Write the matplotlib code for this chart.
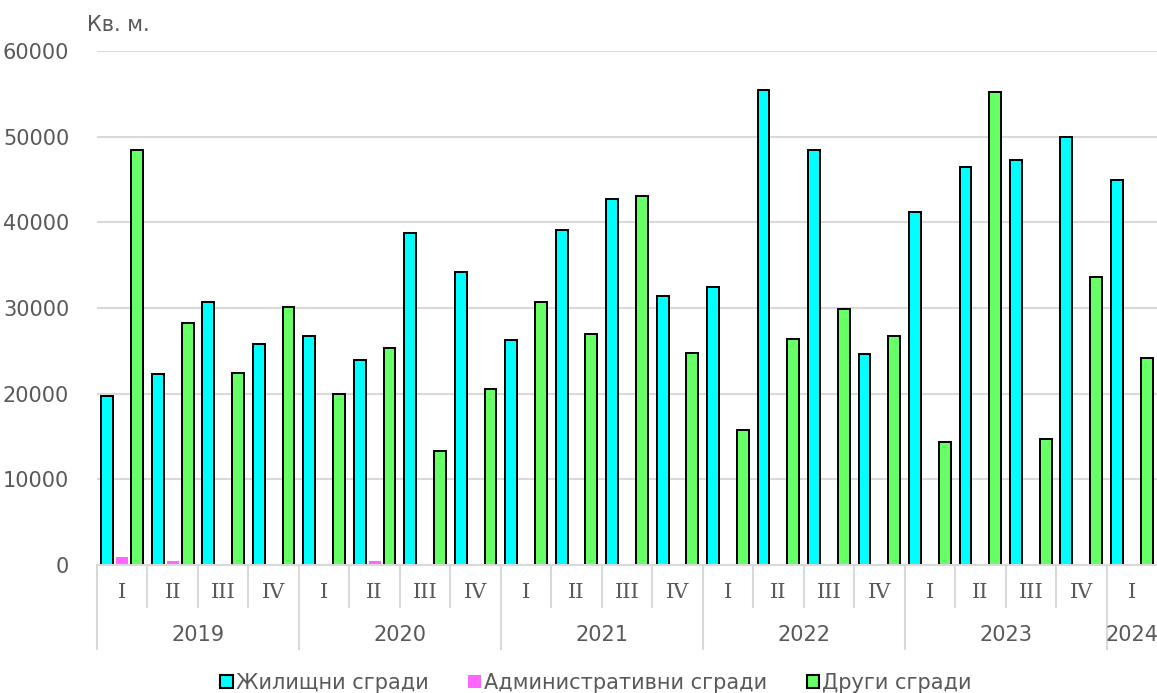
import matplotlib.pyplot as plt
import numpy as np
from matplotlib.patches import Patch

# quarters 2019 I .. 2024 I
years = ["2019", "2020", "2021", "2022", "2023", "2024"]
quarters_per_year = [4, 4, 4, 4, 4, 1]
quarter_names = ["I", "II", "III", "IV"]

residential = [19700, 22250, 30730, 25750,
               26680, 23960, 38800, 34200,
               26230, 39120, 42710, 31350,
               32450, 55400, 48430, 24600,
               41250, 46450, 47300, 49950,
               44980]
administrative = [950, 450, 0, 0,
                  0, 520, 0, 0,
                  0, 0, 0, 0,
                  0, 0, 0, 0,
                  0, 0, 0, 0,
                  0]
other = [48450, 28200, 22440, 30100,
         19990, 25300, 13250, 20570,
         30650, 26920, 43070, 24720,
         15750, 26330, 29860, 26740,
         14380, 55220, 14680, 33600,
         24220]

series_names = ["Жилищни сгради", "Административни сгради", "Други сгради"]
colors = ["#00FFFF", "#FF66FF", "#66FF66"]
text_color = "#595959"
grid_color = "#D9D9D9"

plt.rcParams['font.family'] = ['DejaVu Sans']
fs = 15

fig = plt.figure(figsize=(11.57, 6.93), dpi=100)
ax = fig.add_axes([97 / 1157, 1 - 565 / 693, 1 - 97 / 1157, 514 / 693])

x = np.arange(len(residential))
w = 0.235
off = 0.295
ax.bar(x - off, residential, w, color=colors[0], edgecolor="black", linewidth=1.4, zorder=3)
ax.bar(x, administrative, w, color=colors[1], linewidth=0, zorder=3)
ax.bar(x + off, other, w, color=colors[2], edgecolor="black", linewidth=1.4, zorder=3)

ax.set_xlim(-0.5, len(x) - 0.5)
ax.set_ylim(0, 60000)
ax.set_yticks(np.arange(0, 60001, 10000))
ax.set_yticklabels([str(v) for v in range(0, 60001, 10000)])
ax.yaxis.grid(True, color=grid_color, linewidth=1.5, zorder=0)
ax.tick_params(axis='y', length=0, pad=20, labelsize=fs, labelcolor=text_color)
ax.set_xticks([])
for s in ["top", "right", "left"]:
    ax.spines[s].set_visible(False)
ax.spines["bottom"].set_color(grid_color)
ax.spines["bottom"].set_linewidth(1.5)
ax.spines["bottom"].set_zorder(4)

# multi-level category axis
trans = ax.get_xaxis_transform()
q_sep = -42 / 514
y_sep = -84 / 514
q_lab = -27 / 514
y_lab = -70 / 514
idx = 0
for yr, n in zip(years, quarters_per_year):
    ax.plot([idx - 0.5, idx - 0.5], [0, y_sep], transform=trans, color=grid_color,
            linewidth=1.5, clip_on=False)
    for q in range(n):
        if q > 0:
            ax.plot([idx + q - 0.5, idx + q - 0.5], [0, q_sep], transform=trans,
                    color=grid_color, linewidth=1.5, clip_on=False)
        ax.text(idx + q, q_lab, quarter_names[q], transform=trans, ha="center", va="center",
                fontsize=fs, color=text_color, family="DejaVu Serif")
    ax.text(idx + (n - 1) / 2, y_lab, yr, transform=trans, ha="center", va="center",
            fontsize=fs, color=text_color)
    idx += n

fig.text(87 / 1157, 1 - 25 / 693, "Кв. м.", ha="left", va="center", fontsize=fs, color=text_color)

handles = [Patch(facecolor=colors[0], edgecolor="black", linewidth=1.5),
           Patch(facecolor=colors[1], linewidth=0),
           Patch(facecolor=colors[2], edgecolor="black", linewidth=1.5)]
leg = fig.legend(handles, series_names, loc="center", bbox_to_anchor=(596 / 1157, 1 - 683 / 693),
                 ncol=3, frameon=False, fontsize=fs, handlelength=0.6, handleheight=0.6,
                 handletextpad=0.15, columnspacing=1.9, borderpad=0)
for t in leg.get_texts():
    t.set_color(text_color)

fig.savefig("out.png", dpi=100)
